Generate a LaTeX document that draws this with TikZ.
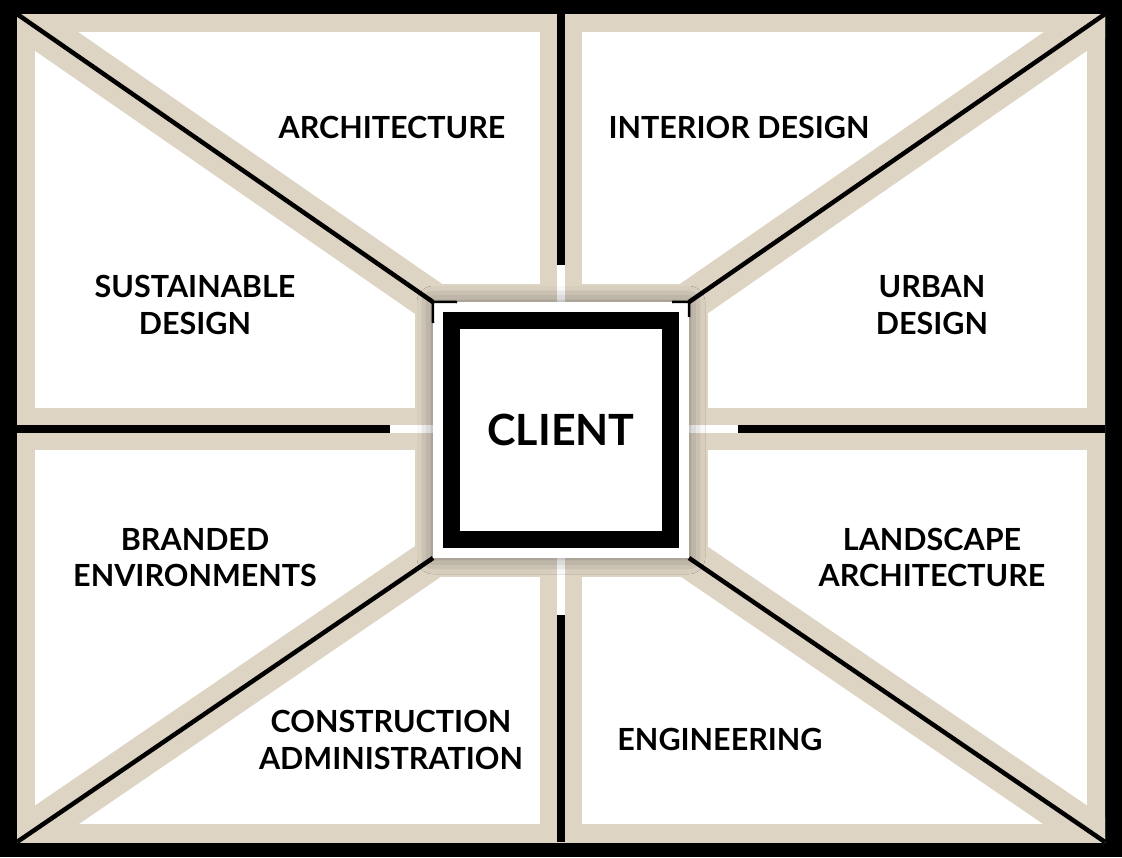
\documentclass[tikz,border=0pt]{standalone}
\usepackage{fontspec}
\setmainfont{Lato}
\usepackage{tikz}
\usetikzlibrary{shadows.blur}

\definecolor{sand}{RGB}{222,212,196}

\begin{document}
\begin{tikzpicture}[x=1pt, y=-1pt,
  frame/.style={draw=sand, line width=36pt},
  band/.style={draw=sand, line width=42pt},
  slant/.style={draw=sand, line width=40pt},
  gap/.style={draw=black, line width=8pt},
  thingap/.style={draw=black, line width=4.5pt},
  halo/.style={fill=white, minimum size=256pt, inner sep=0pt,
               blur shadow={shadow xshift=0pt, shadow yshift=0pt,
                            shadow blur radius=16pt, shadow opacity=45}},
  label/.style={font=\fontsize{30.5}{36.5}\selectfont\bfseries, align=center, inner sep=0pt}
]
\useasboundingbox (0,0) rectangle (1122,857);
\fill[black] (0,0) rectangle (1122,857);
% ---- outer corners, gap ends, halo corners ----
\coordinate (tl) at (17,14);   \coordinate (tr) at (1105,14);
\coordinate (bl) at (17,842);  \coordinate (br) at (1105,842);
\coordinate (topmid) at (561,14);  \coordinate (botmid) at (561,842);
\coordinate (lftmid) at (17,429);  \coordinate (rgtmid) at (1105,429);
\coordinate (h1) at (433,302); \coordinate (h2) at (689,302);
\coordinate (h3) at (689,558); \coordinate (h4) at (433,558);
% ---- panels: white field with sand bands ----
\fill[white] (tl) rectangle (br);
\begin{scope}
  \clip (tl) rectangle (br);
  \draw[frame] (tl) rectangle (br);
  \draw[band] (topmid) -- (561,302);
  \draw[band] (botmid) -- (561,558);
  \draw[band] (lftmid) -- (433,429);
  \draw[band] (rgtmid) -- (689,429);
  \foreach \a/\b in {tl/h1,tr/h2,bl/h4,br/h3}{
    \draw[slant] (\a) -- (\b);
  }
  \draw[draw=sand, line width=37pt] (h1) rectangle (h3);
\end{scope}
% ---- dividing lines ----
\draw[gap] (topmid) -- (561,265);
\draw[gap] (botmid) -- (561,615);
\draw[gap] (lftmid) -- (390,429);
\draw[gap] (rgtmid) -- (738,429);
\draw[white, line width=8pt] (561,265) -- (561,302) (561,615) -- (561,558)
  (390,429) -- (433,429) (738,429) -- (689,429);
\foreach \a/\b in {tl/h1,tr/h2,bl/h4,br/h3}{
  \draw[thingap] (\a) -- (\b);
}
% ---- centre ----
\node[halo] (halo) at (561,430) {};
\draw[black, line width=2.5pt] (457,302) -- (halo.north west) -- (433,323);
\draw[black, line width=2.5pt] (672,302) -- (halo.north east) -- (689,317);
\node[draw=black, line width=17pt, fill=white, minimum size=219pt, inner sep=0pt,
      font=\fontsize{43}{50}\selectfont\bfseries] (client) at (halo.center) {CLIENT};
% ---- labels ----
\node[label] (arch)  at (392,127)   {ARCHITECTURE};
\node[label] (inter) at (739,127)   {INTERIOR DESIGN};
\node[label] (sust)  at (195,305)   {SUSTAINABLE\\DESIGN};
\node[label] (urban) at (932,305)   {URBAN\\DESIGN};
\node[label] (brand) at (195,557.5) {BRANDED\\ENVIRONMENTS};
\node[label] (land)  at (932,557.5) {LANDSCAPE\\ARCHITECTURE};
\node[label] (cons)  at (391,740)   {CONSTRUCTION\\ADMINISTRATION};
\node[label] (engr)  at (720,739)   {ENGINEERING};
\end{tikzpicture}
\end{document}
